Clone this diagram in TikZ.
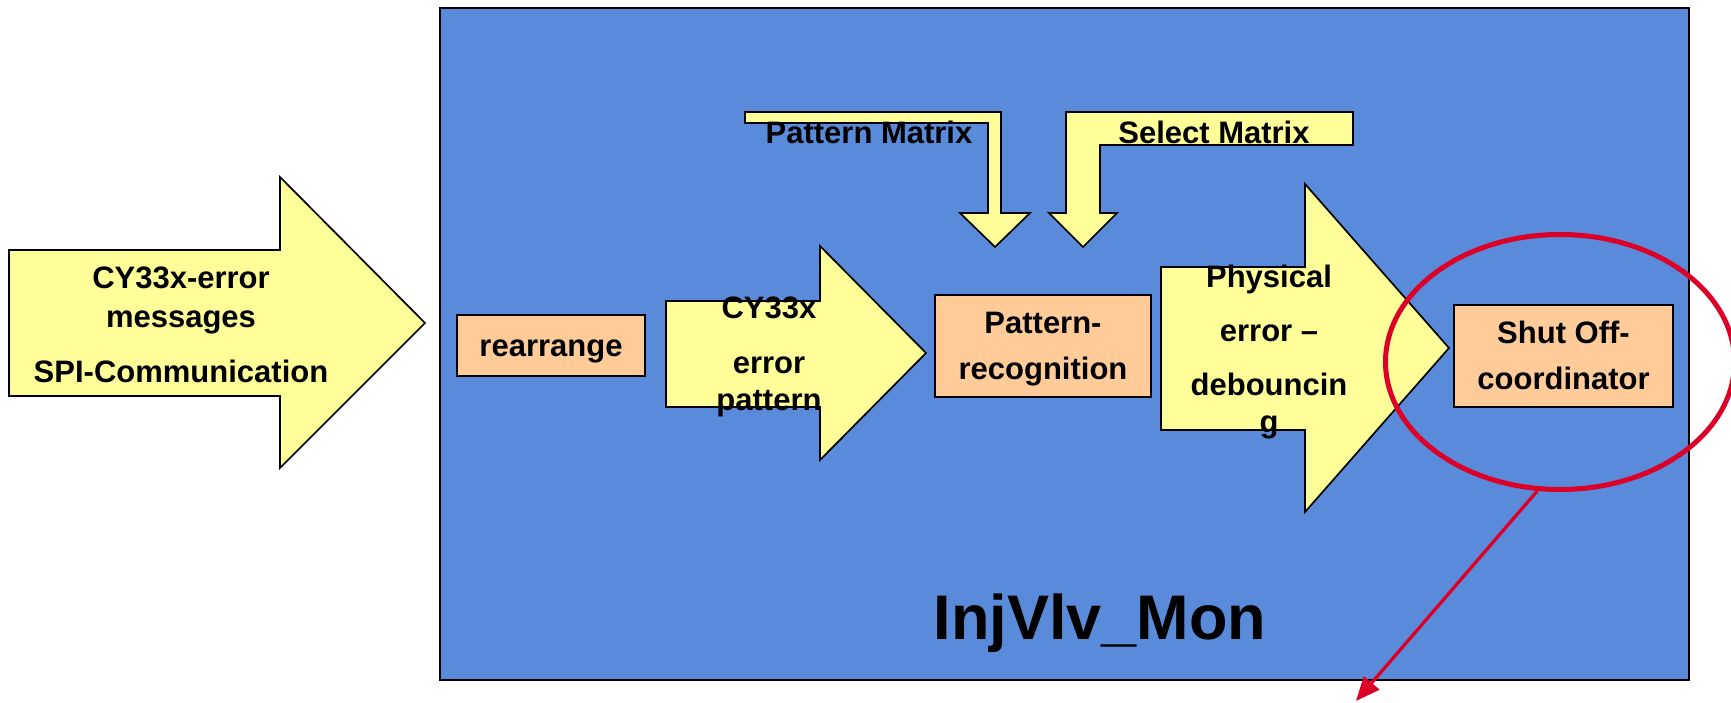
\documentclass[tikz,border=0pt]{standalone}
\usepackage{fontspec}
\setmainfont{Liberation Sans}
\usetikzlibrary{shapes.geometric,arrows.meta}
\definecolor{monblue}{RGB}{90,139,218}
\definecolor{arrowyellow}{RGB}{255,255,153}
\definecolor{boxorange}{RGB}{255,204,153}
\definecolor{markred}{RGB}{220,0,40}
\newcommand\ppstrut{\rule[-6.6pt]{0pt}{34.6pt}}
\tikzset{
  blockarrow/.style={draw=black, line width=1.7pt, fill=arrowyellow, line join=miter},
  procbox/.style={draw=black, line width=1.7pt, fill=boxorange, inner sep=0pt, align=center,
    font=\fontsize{31}{46}\selectfont\bfseries},
  arrowtext/.style={inner sep=0pt, align=center, anchor=north},
  labeltext/.style={inner sep=0pt, anchor=base, font=\fontsize{31}{37}\selectfont\bfseries},
}
\begin{document}
\begin{tikzpicture}[x=1pt,y=-1pt]
\useasboundingbox (0,0) rectangle (1731,702);
% main block
\node[draw=black, line width=1.5pt, fill=monblue, minimum width=1249pt, minimum height=672pt, inner sep=0pt] (mon) at (1064.5,344) {};
\node[inner sep=0pt, anchor=base, font=\fontsize{63}{70}\selectfont\bfseries] (montitle) at (1100,639) {InjVlv\_Mon};
% input arrow
\draw[blockarrow] (9,250) -- (280,250) -- (280,177) -- (425,323) -- (280,468) -- (280,396) -- (9,396) -- cycle;
\node[arrowtext, font=\fontsize{31}{39}\selectfont\bfseries] (intext) at (181,260)
  {\ppstrut CY33x-error\\\ppstrut messages\\[16pt]\ppstrut SPI-Communication};
% rearrange
\node[procbox, minimum width=188pt, minimum height=61pt] (rearr) at (551,345.5) {\ppstrut rearrange};
% CY33x error pattern arrow
\draw[blockarrow] (666,301) -- (820,301) -- (820,246) -- (926,353) -- (820,460) -- (820,407) -- (666,407) -- cycle;
\node[arrowtext, font=\fontsize{31}{37}\selectfont\bfseries] (pattxt) at (769,290)
  {\ppstrut CY33x\\[18pt]\ppstrut error\\\ppstrut pattern};
% bent arrows
\draw[blockarrow] (745,112) -- (1001,112) -- (1001,213) -- (1030,213) -- (995,247) -- (960,213) -- (988,213) -- (988,123) -- (745,123) -- cycle;
\draw[blockarrow] (1353,112) -- (1066,112) -- (1066,213) -- (1049,213) -- (1083,247) -- (1117,213) -- (1100,213) -- (1100,145) -- (1353,145) -- cycle;
\node[labeltext] (pmat) at (869,143) {Pattern Matrix};
\node[labeltext] (smat) at (1214,143) {Select Matrix};
% pattern recognition
\node[procbox, minimum width=216pt, minimum height=102pt] (precog) at (1043,346) {\ppstrut Pattern-\\\ppstrut recognition};
% physical error debouncing arrow
\draw[blockarrow] (1161,267) -- (1305,267) -- (1305,184) -- (1449,348) -- (1305,512) -- (1305,430) -- (1161,430) -- cycle;
\node[arrowtext, font=\fontsize{31}{37}\selectfont\bfseries] (phystxt) at (1269,259)
  {\ppstrut Physical\\[17pt]\ppstrut error –\\[17pt]\ppstrut debouncin\\\ppstrut g};
% shut off coordinator
\node[procbox, minimum width=219pt, minimum height=102pt] (shutoff) at (1563.5,356) {\ppstrut Shut Off-\\\ppstrut coordinator};
% red highlight
\node[draw=markred, line width=5pt, ellipse, minimum width=349pt, minimum height=255pt, inner sep=0pt] (ring) at (1560,362) {};
\coordinate (redend) at (1356,701);
\draw[markred, line width=3.3pt, -{Triangle[length=24pt,width=20pt]}] (ring.-100) -- (redend);
\end{tikzpicture}
\end{document}
